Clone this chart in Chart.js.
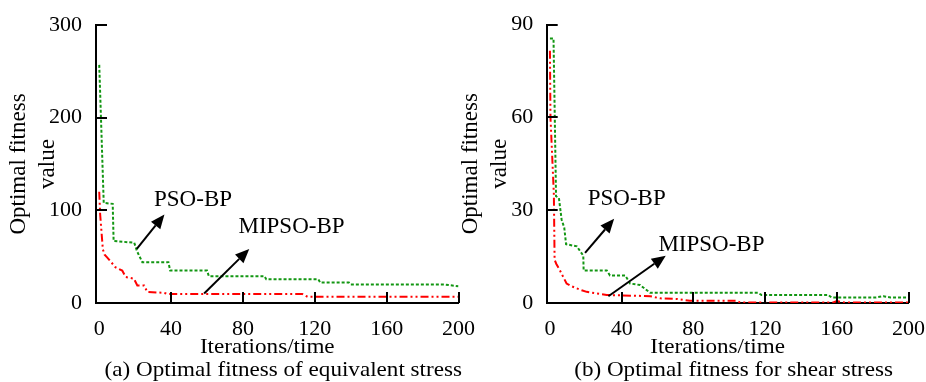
<!DOCTYPE html>
<html>
<head>
<meta charset="utf-8">
<script src="https://cdn.jsdelivr.net/npm/chart.js@4.4.1/dist/chart.umd.min.js"></script>
<style>
  html, body { margin: 0; padding: 0; background: #fff; }
  #wrap { position: relative; width: 926px; height: 382px; overflow: hidden; }
  #wrap canvas { position: absolute; top: 0; }
  #chartA { left: 0; }
  #chartB { left: 455px; }
</style>
</head>
<body>
<div id="wrap">
  <canvas id="chartA" width="490" height="382"></canvas>
  <canvas id="chartB" width="485" height="382"></canvas>
</div>
<script>
'use strict'
const serif = '"Liberation Serif", "Times New Roman", serif'

// shared iteration axis
const xTicks = [0, 40, 80, 120, 160, 200]

// (a) equivalent stress
const yTicksA = [0, 100, 200, 300]
const psoIterA = [0, 2.5, 7.5, 8, 19.5, 21, 24, 38.5, 39.5, 60, 61, 92, 93, 122, 123, 139, 140, 192, 200]
const psoValA = [257, 108, 107, 67, 65, 56, 44, 44, 35, 35, 29, 29, 25.5, 25.5, 22, 22, 20, 20, 18]
const mipsoIterA = [0, 0.5, 2, 3, 4.5, 9, 12.8, 14.7, 19.3, 21.2, 25, 26.7, 36, 38, 113, 116, 200]
const mipsoValA = [120, 96, 58, 52, 49, 38.6, 35, 28, 26.3, 19, 19, 12, 11, 9.8, 9.8, 6.7, 6.7]

// (b) shear stress
const yTicksB = [0, 30, 60, 90]
const psoIterB = [0, 2, 3.4, 5, 6.5, 8, 9, 15, 18.6, 18.8, 31.7, 33.5, 42, 44.7, 50.3, 55.9, 116, 118, 155.3, 157, 182, 186, 190, 200]
const psoValB = [85.5, 85.5, 34.5, 34, 27, 24.3, 19, 18.3, 15.3, 10.5, 10.5, 8.9, 8.9, 6.3, 5.8, 3.3, 3.3, 2.6, 2.6, 1.8, 1.8, 2.2, 1.8, 1.8]
const mipsoIterB = [0, 0.3, 2.2, 2.6, 3.5, 5.6, 9.3, 12.1, 17.7, 20.5, 26, 31.7, 56, 61.5, 71, 78, 104, 106, 158, 160, 164, 200]
const mipsoValB = [81.5, 60, 35, 14, 12.7, 10.5, 6.3, 5.4, 4.1, 3.6, 3.1, 2.6, 2.2, 1.5, 1.3, 0.7, 0.7, 0.2, 0.2, 0.6, 0.2, 0.2]

// arrow labels (data units: iteration, fitness)
const noteTexts = ['PSO-BP', 'MIPSO-BP']
const noteAtA = [[30.5, 104.3], [77.5, 75.9]]
const arrowFromA = [[20.9, 58.5], [58.4, 10.3]]
const arrowToA = [[36.3, 95.4], [83.5, 58.2]]
const noteAtB = [[21.1, 31.6], [60.5, 16.9]]
const arrowFromB = [[19.6, 16.2], [32.6, 2.2]]
const arrowToB = [[35.8, 27.2], [64.6, 15.3]]

const captions = ['(a) Optimal fitness of equivalent stress', '(b) Optimal fitness for shear stress']

const pts = (xs, ys) => xs.map((v, i) => ({ x: v, y: ys[i] }))

function drawArrow(ctx, x1, y1, x2, y2) {
  const ang = Math.atan2(y2 - y1, x2 - x1)
  const len = 14, half = 6
  const bx = x2 - len * Math.cos(ang), by = y2 - len * Math.sin(ang)
  ctx.beginPath()
  ctx.moveTo(x1, y1)
  ctx.lineTo(bx, by)
  ctx.stroke()
  ctx.beginPath()
  ctx.moveTo(x2, y2)
  ctx.lineTo(bx + half * Math.sin(ang), by - half * Math.cos(ang))
  ctx.lineTo(bx - half * Math.sin(ang), by + half * Math.cos(ang))
  ctx.closePath()
  ctx.fill()
}

// the source font is a bit wider than Liberation Serif
function wideText(ctx, s, cx, cy) {
  ctx.save()
  ctx.translate(cx, cy)
  ctx.scale(1.1, 1)
  ctx.font = '21px ' + serif
  ctx.textAlign = 'center'
  ctx.textBaseline = 'middle'
  ctx.fillText(s, 0, 0)
  ctx.restore()
}

const figurePlugin = {
  id: 'figure',
  afterDraw(chart, args, opts) {
    const { ctx, chartArea: area, scales: { x, y } } = chart
    ctx.save()
    ctx.strokeStyle = '#000'
    ctx.fillStyle = '#000'
    ctx.lineWidth = 2
    // tick marks point into the plot
    y.ticks.forEach(t => {
      const py = Math.round(y.getPixelForValue(t.value))
      ctx.beginPath(); ctx.moveTo(area.left, py); ctx.lineTo(area.left + 11, py); ctx.stroke()
    })
    x.ticks.forEach(t => {
      if (t.value === 0) return
      const px = Math.round(x.getPixelForValue(t.value))
      ctx.beginPath(); ctx.moveTo(px, area.bottom); ctx.lineTo(px, area.bottom - 11); ctx.stroke()
    })
    opts.from.forEach((f, i) => {
      const to = opts.to[i]
      drawArrow(ctx, x.getPixelForValue(f[0]), y.getPixelForValue(f[1]),
        x.getPixelForValue(to[0]), y.getPixelForValue(to[1]))
    })
    ctx.font = '23px ' + serif
    ctx.textAlign = 'left'
    ctx.textBaseline = 'alphabetic'
    noteTexts.forEach((s, i) => {
      ctx.fillText(s, x.getPixelForValue(opts.at[i][0]), y.getPixelForValue(opts.at[i][1]))
    })
    const mid = (area.left + area.right) / 2
    wideText(ctx, 'Iterations/time', mid - 10, area.bottom + 44)
    wideText(ctx, opts.caption, mid + 6, area.bottom + 67)
    ctx.restore()
  }
}

function makeChart(id, c) {
  return new Chart(document.getElementById(id), {
    type: 'line',
    data: {
      datasets: [
        {
          label: 'MIPSO-BP',
          data: pts(c.mipsoIter, c.mipsoVal),
          borderColor: '#ff0000',
          borderWidth: 2,
          borderDash: [8, 3, 2, 3, 2, 3],
          pointRadius: 0,
          tension: 0,
          fill: false
        },
        {
          label: 'PSO-BP',
          data: pts(c.psoIter, c.psoVal),
          borderColor: '#129612',
          borderWidth: 2,
          borderDash: [3, 2],
          pointRadius: 0,
          tension: 0,
          fill: false
        }
      ]
    },
    options: {
      responsive: false,
      animation: false,
      events: [],
      layout: { padding: { top: 21, right: 0, bottom: 27, left: 0 } },
      scales: {
        x: {
          type: 'linear',
          min: -1.8,
          max: 200,
          afterBuildTicks: s => { s.ticks = xTicks.map(v => ({ value: v })) },
          ticks: { padding: 15, color: '#000', font: { family: serif, size: 22, lineHeight: 1 } },
          grid: { display: false, drawTicks: false },
          border: { display: true, color: '#000', width: 2 }
        },
        y: {
          min: 0,
          max: c.yTicks[c.yTicks.length - 1],
          afterBuildTicks: s => { s.ticks = c.yTicks.map(v => ({ value: v })) },
          ticks: { padding: c.tickPad, color: '#000', font: { family: serif, size: 22, lineHeight: 1 } },
          grid: { display: false, drawTicks: false },
          border: { display: true, color: '#000', width: 2 },
          title: {
            display: true,
            text: ['Optimal fitness', 'value'],
            color: '#000',
            font: { family: serif, size: 23, lineHeight: 1.274 },
            padding: c.titlePad
          }
        }
      },
      plugins: {
        legend: { display: false },
        tooltip: { enabled: false },
        figure: { from: c.from, to: c.to, at: c.at, caption: c.caption }
      }
    },
    plugins: [figurePlugin]
  })
}

makeChart('chartA', {
  psoIter: psoIterA, psoVal: psoValA, mipsoIter: mipsoIterA, mipsoVal: mipsoValA,
  yTicks: yTicksA, tickPad: 14, titlePad: { top: 4.25, bottom: -27.85 },
  from: arrowFromA, to: arrowToA, at: noteAtA, caption: captions[0]
})
makeChart('chartB', {
  psoIter: psoIterB, psoVal: psoValB, mipsoIter: mipsoIterB, mipsoVal: mipsoValB,
  yTicks: yTicksB, tickPad: 13.5, titlePad: { top: 0.85, bottom: -16.75 },
  from: arrowFromB, to: arrowToB, at: noteAtB, caption: captions[1]
})
</script>
</body>
</html>
